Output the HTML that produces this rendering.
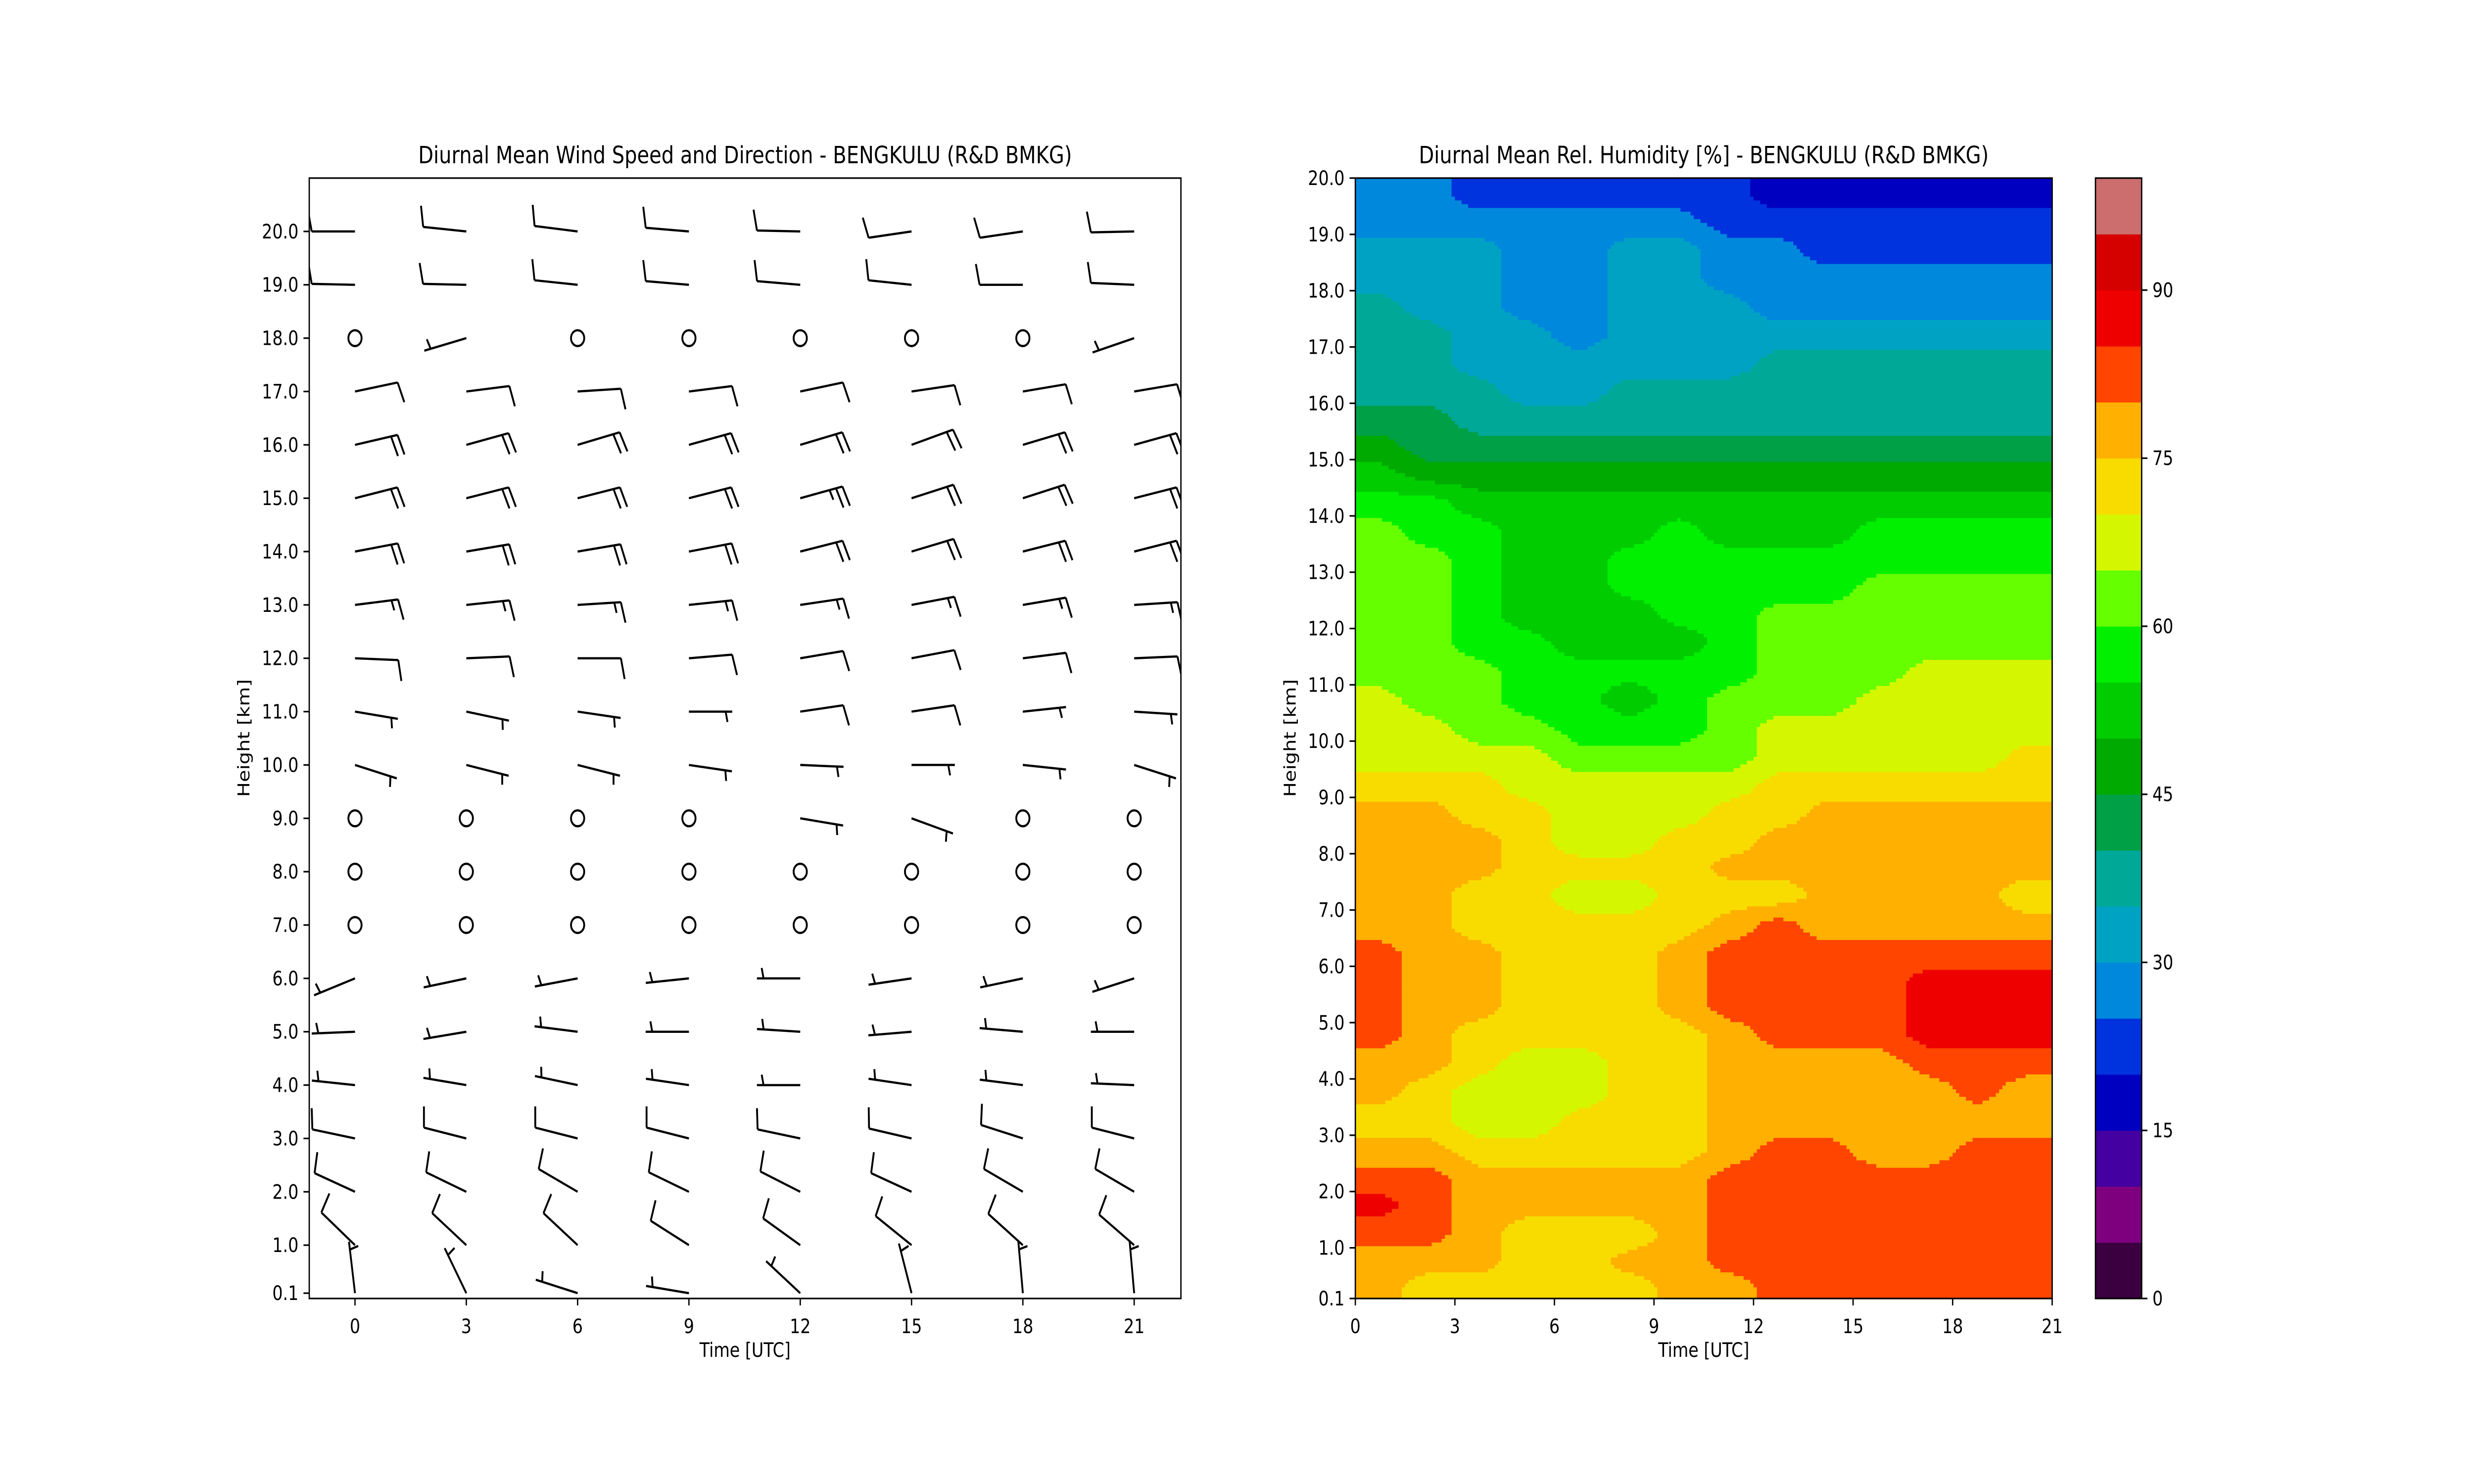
<!DOCTYPE html>
<html><head><meta charset="utf-8"><title>Diurnal Mean Wind and RH - BENGKULU</title>
<style>
html,body{margin:0;padding:0;background:#fff;width:100%;height:100%;overflow:hidden;}
svg{display:block;width:100vw;height:100vh;}
text{font-family:"DejaVu Sans","Liberation Sans",sans-serif;fill:#000;}
</style></head>
<body>
<svg id="fig" xmlns="http://www.w3.org/2000/svg" viewBox="0 0 6000 3000" preserveAspectRatio="none">
<rect x="0" y="0" width="6000" height="3000" fill="#fff"/>
<defs>
<clipPath id="clipL"><rect x="750" y="360" width="2114" height="2265"/></clipPath>
<clipPath id="clipR"><rect x="3287" y="360" width="1690" height="2265"/></clipPath>
</defs>
<g id="leftPlot">
<text x="1807" y="330" font-size="48" text-anchor="middle">Diurnal Mean Wind Speed and Direction - BENGKULU (R&amp;D BMKG)</text>
<g id="barbs" clip-path="url(#clipL)"></g>
<g id="axL"></g>
<text x="1807" y="2743" font-size="40" text-anchor="middle">Time [UTC]</text>
<text transform="translate(605,1492) rotate(-90)" font-size="40" text-anchor="middle">Height [km]</text>
</g>
<g id="rightPlot">
<text x="4132" y="330" font-size="48" text-anchor="middle">Diurnal Mean Rel. Humidity [%] - BENGKULU (R&amp;D BMKG)</text>
<g id="rhField" clip-path="url(#clipR)"></g>
<g id="axR"></g>
<text x="4132" y="2743" font-size="40" text-anchor="middle">Time [UTC]</text>
<text transform="translate(3142,1492) rotate(-90)" font-size="40" text-anchor="middle">Height [km]</text>
</g>
<g id="cbar"></g>
</svg>
<script>
// ---------- Wind data ----------
const windTimes = [0,3,6,9,12,15,18,21];
const windHeights = [0.1,1,2,3,4,5,6,7,8,9,10,11,12,13,14,15,16,17,18,19,20];
const windDir = [
 [352,330,285,278,308,343,354,354],
 [309,308,308,298,301,304,307,306],
 [291,292,296,292,293,291,296,296],
 [280,282,282,282,280,281,285,282],
 [275,278,280,277,270,277,276,272],
 [268,262,276,270,273,266,274,270],
 [251,260,261,265,270,263,260,255],
 [0,0,0,0,0,0,0,0],
 [0,0,0,0,0,0,0,0],
 [0,0,0,0,98,107,0,0],
 [105,102,102,97,92,90,95,105],
 [98,100,97,90,83,83,85,93],
 [92,88,90,86,82,81,84,88],
 [84,85,87,85,83,81,82,87],
 [81,82,82,81,78,76,78,78],
 [78,78,78,78,77,75,75,78],
 [79,77,76,77,76,73,76,77],
 [80,84,87,84,80,83,82,82],
 [0,256,0,0,0,0,0,254],
 [271,271,275,274,274,275,270,272],
 [270,275,276,274,271,263,263,269]
];
const windSpd = [
 [5,5,5,5,5,5,5,5],
 [10,10,10,10,10,10,10,10],
 [10,10,10,10,10,10,10,10],
 [10,10,10,10,10,10,10,10],
 [5,5,5,5,5,5,5,5],
 [5,5,5,5,5,5,5,5],
 [5,5,5,5,5,5,5,5],
 [0,0,0,0,0,0,0,0],
 [0,0,0,0,0,0,0,0],
 [0,0,0,0,5,5,0,0],
 [5,5,5,5,5,5,5,5],
 [5,5,5,5,10,10,5,5],
 [10,10,10,10,10,10,10,10],
 [15,15,15,15,15,15,15,15],
 [20,20,20,20,20,20,20,20],
 [20,20,20,20,25,20,20,20],
 [20,20,20,20,20,20,20,20],
 [10,10,10,10,10,10,10,10],
 [0,5,0,0,0,0,0,5],
 [10,10,10,10,10,10,10,10],
 [10,10,10,10,10,10,10,10]
];
const leftYTicks = [0.1,1,2,3,4,5,6,7,8,9,10,11,12,13,14,15,16,17,18,19,20];
const xTicks = [0,3,6,9,12,15,18,21];

// ---------- RH data (cell centres) ----------
const rhTimes = [0.75,2.25,3.75,5.25,6.75,8.25,9.75,11.25,12.75,14.25,15.75,17.25,18.75,20.25];
const rhHeights = [19.75,19.25,18.75,18.25,17.75,17.25,16.75,16.25,15.75,15.25,14.75,14.25,13.75,13.25,12.75,12.25,11.75,11.25,10.75,10.25,9.75,9.25,8.75,8.25,7.75,7.25,6.75,6.25,5.75,5.25,4.75,4.25,3.75,3.25,2.75,2.25,1.75,1.25,0.75,0.25];
const rhValues = [
 [27,27,22,22,22,22,22,22,17,17,17,17,17,17],
 [27,27,27,27,27,27,27,22,22,22,22,22,22,22],
 [32,32,32,27,27,32,32,27,27,22,22,22,22,22],
 [32,32,32,27,27,32,32,27,27,27,27,27,27,27],
 [37,32,32,27,27,32,32,32,27,27,27,27,27,27],
 [37,37,32,32,27,32,32,32,32,32,32,32,32,32],
 [37,37,32,32,32,32,32,32,37,37,37,37,37,37],
 [37,37,37,32,32,37,37,37,37,37,37,37,37,37],
 [42,42,37,37,37,37,37,37,37,37,37,37,37,37],
 [47,42,42,42,42,42,42,42,42,42,42,42,42,42],
 [52,47,47,47,47,47,47,47,47,47,47,47,47,47],
 [57,57,52,52,52,52,52,52,52,52,52,52,52,52],
 [62,57,57,52,52,52,57,52,52,52,57,57,57,57],
 [62,62,57,52,52,57,57,57,57,57,57,57,57,57],
 [62,62,57,52,52,57,57,57,57,57,62,62,62,62],
 [62,62,57,52,52,52,57,57,62,62,62,62,62,62],
 [62,62,57,57,52,52,52,57,62,62,62,62,62,62],
 [62,62,62,57,57,57,57,57,62,62,62,67,67,67],
 [67,62,62,57,57,52,57,62,62,62,67,67,67,67],
 [67,67,62,62,57,57,57,62,67,67,67,67,67,67],
 [67,67,67,67,62,62,62,62,67,67,67,67,67,72],
 [72,72,72,67,67,67,67,67,72,72,72,72,72,72],
 [77,77,72,72,67,67,67,72,72,77,77,77,77,77],
 [77,77,77,72,67,67,72,72,77,77,77,77,77,77],
 [77,77,77,72,72,72,72,77,77,77,77,77,77,77],
 [77,77,72,72,67,67,72,72,72,77,77,77,77,72],
 [77,77,72,72,72,72,72,77,82,77,77,77,77,77],
 [82,77,77,72,72,72,77,82,82,82,82,82,82,82],
 [82,77,77,72,72,72,77,82,82,82,82,87,87,87],
 [82,77,77,72,72,72,77,82,82,82,82,87,87,87],
 [82,77,72,72,72,72,72,77,82,82,82,87,87,87],
 [77,77,72,67,67,72,72,77,77,77,77,82,82,82],
 [77,72,67,67,67,72,72,77,77,77,77,77,82,77],
 [72,72,67,67,72,72,72,77,77,77,77,77,77,77],
 [77,77,72,72,72,72,72,77,82,82,77,77,82,82],
 [82,82,77,77,77,77,77,82,82,82,82,82,82,82],
 [87,82,77,77,77,77,77,82,82,82,82,82,82,82],
 [82,82,77,72,72,72,77,82,82,82,82,82,82,82],
 [77,77,77,72,72,77,77,82,82,82,82,82,82,82],
 [77,72,72,72,72,72,77,77,82,82,82,82,82,82]
];
const rhLevels = [0,5,10,15,20,25,30,35,40,45,50,55,60,65,70,75,80,85,90,95,100];
const rhColors = ["#3a0040","#7f007f","#4400a0","#0000c0","#0033dd","#0088dd","#00a2c4","#00a898","#00a046","#00aa00","#00cc00","#00f000","#66ff00","#d4f700","#f8dc00","#ffb000","#ff4500","#ee0000","#d50000","#cc6e6e"];
const cbarTicks = [0,15,30,45,60,75,90];

const NS = "http://www.w3.org/2000/svg";
function mk(tag, attrs, parent){
  const e = document.createElementNS(NS, tag);
  for (const k in attrs) e.setAttribute(k, attrs[k]);
  parent.appendChild(e);
  return e;
}
// ---------- scales ----------
const L = {x0:750, x1:2864, y0:360, y1:2625, tmin:-1.233, tmax:22.26, hmin:0, hmax:21};
const R = {x0:3287, x1:4977, y0:360, y1:2625, tmin:0, tmax:21, hmin:0.1, hmax:20};
const CB = {x0:5082, x1:5194, y0:360, y1:2625, vmin:0, vmax:100};
function lx(t){ return L.x0 + (t-L.tmin)/(L.tmax-L.tmin)*(L.x1-L.x0); }
function ly(h){ return L.y1 - (h-L.hmin)/(L.hmax-L.hmin)*(L.y1-L.y0); }
function rx(t){ return R.x0 + (t-R.tmin)/(R.tmax-R.tmin)*(R.x1-R.x0); }
function ry(h){ return R.y1 - (h-R.hmin)/(R.hmax-R.hmin)*(R.y1-R.y0); }
function cy(v){ return CB.y1 - (v-CB.vmin)/(CB.vmax-CB.vmin)*(CB.y1-CB.y0); }

// ---------- barbs ----------
const gB = document.getElementById('barbs');
const SH = 105, FULL = 42, HALF = 21, SP = 16, LEAN = 9;
windHeights.forEach((h, i) => {
  windTimes.forEach((t, j) => {
    const px = lx(t), py = ly(h);
    const spd = windSpd[i][j], d = windDir[i][j]*Math.PI/180;
    if (spd < 5) {
      const c = mk('circle', {cx:px, cy:py, r:16, fill:'none', stroke:'#000', 'stroke-width':4.5}, gB);
      
      
      return;
    }
    const sx = Math.sin(d), sy = -Math.cos(d);
    const qx = Math.cos(d), qy = Math.sin(d);
    const ex = px + SH*sx, ey = py + SH*sy;
    let p = `M${px},${py} L${ex},${ey}`;
    const full = Math.floor(spd/10), half = (spd % 10) >= 5 ? 1 : 0;
    let k = 0;
    for (let f = 0; f < full; f++, k++) {
      const bx = ex - k*SP*sx, by = ey - k*SP*sy;
      p += ` M${bx},${by} L${bx + FULL*qx + LEAN*sx},${by + FULL*qy + LEAN*sy}`;
    }
    if (half) {
      if (full === 0) k = 1;
      const bx = ex - k*SP*sx, by = ey - k*SP*sy;
      p += ` M${bx},${by} L${bx + HALF*qx + LEAN*0.5*sx},${by + HALF*qy + LEAN*0.5*sy}`;
    }
    const b = mk('path', {d:p, fill:'none', stroke:'#000', 'stroke-width':4.5, 'stroke-linecap':'butt'}, gB);
    
    
  });
});

// ---------- axes helper ----------
function drawAxes(g, x0, x1, y0, y1, xt, xf, yt, yf, ylab){
  const f = mk('rect', {x:x0, y:y0, width:x1-x0, height:y1-y0, fill:'none', stroke:'#000', 'stroke-width':3.2}, g);
  
  
  xt.forEach(t => {
    const x = xf(t);
    const tk = mk('line', {x1:x, y1:y1, x2:x, y2:y1+14, stroke:'#000', 'stroke-width':3.2}, g);
    
    
    const tx = mk('text', {x:x, y:y1+70, 'font-size':40, 'text-anchor':'middle'}, g);
    tx.textContent = String(t);
    
    
  });
  yt.forEach(h => {
    const y = yf(h);
    const tk = mk('line', {x1:x0-14, y1:y, x2:x0, y2:y, stroke:'#000', 'stroke-width':3.2}, g);
    
    
    const tx = mk('text', {x:x0-26, y:y+14, 'font-size':40, 'text-anchor':'end'}, g);
    tx.textContent = ylab(h);
    
    
  });
}
drawAxes(document.getElementById('axL'), L.x0, L.x1, L.y0, L.y1, xTicks, lx, leftYTicks, ly, h => h.toFixed(1));

// ---------- RH field (contour-style render) ----------
const gR = document.getElementById('rhField');
function bandOf(v){
  for (let b = rhLevels.length-2; b >= 0; b--) if (v >= rhLevels[b]) return b;
  return 0;
}
function sampleRH(t, h){
  const nC = rhTimes.length, nR = rhHeights.length;
  const dt = rhTimes[1]-rhTimes[0], dh = rhHeights[0]-rhHeights[1];
  let fc = (t - rhTimes[0])/dt; fc = Math.max(0, Math.min(nC-1, fc));
  let fr = (rhHeights[0] - h)/dh; fr = Math.max(0, Math.min(nR-1, fr));
  const c0 = Math.min(nC-2, Math.floor(fc)), r0 = Math.min(nR-2, Math.floor(fr));
  const a = fc - c0, b = fr - r0;
  const v00 = rhValues[r0][c0], v01 = rhValues[r0][c0+1], v10 = rhValues[r0+1][c0], v11 = rhValues[r0+1][c0+1];
  return (1-b)*((1-a)*v00 + a*v01) + b*((1-a)*v10 + a*v11);
}
const NX = 210, NY = 300;
for (let iy = 0; iy < NY; iy++) {
  const hTop = R.hmax - iy*(R.hmax-R.hmin)/NY, hBot = R.hmax - (iy+1)*(R.hmax-R.hmin)/NY;
  const hc = (hTop+hBot)/2;
  let runStart = 0, runBand = -1;
  for (let ix = 0; ix <= NX; ix++) {
    let band = -2;
    if (ix < NX) {
      const tc = R.tmin + (ix+0.5)*(R.tmax-R.tmin)/NX;
      band = bandOf(sampleRH(tc, hc));
    }
    if (band !== runBand) {
      if (runBand >= 0) {
        const xa = rx(R.tmin + runStart*(R.tmax-R.tmin)/NX), xb = rx(R.tmin + ix*(R.tmax-R.tmin)/NX);
        const ya = ry(hTop), yb = ry(hBot);
        const r = mk('rect', {x:xa, y:ya, width:xb-xa+0.8, height:yb-ya+0.8, fill:rhColors[runBand]}, gR);
        
        
      }
      runStart = ix; runBand = band;
    }
  }
}
drawAxes(document.getElementById('axR'), R.x0, R.x1, R.y0, R.y1, xTicks, rx, leftYTicks, ry, h => h.toFixed(1));

// ---------- colorbar ----------
const gC = document.getElementById('cbar');
for (let i = 0; i < rhColors.length; i++) {
  const ya = cy(rhLevels[i+1]), yb = cy(rhLevels[i]);
  const r = mk('rect', {x:CB.x0, y:ya, width:CB.x1-CB.x0, height:yb-ya+0.6, fill:rhColors[i]}, gC);
  
  
}
const cf = mk('rect', {x:CB.x0, y:CB.y0, width:CB.x1-CB.x0, height:CB.y1-CB.y0, fill:'none', stroke:'#000', 'stroke-width':3.2}, gC);


cbarTicks.forEach(v => {
  const y = cy(v);
  const tk = mk('line', {x1:CB.x1, y1:y, x2:CB.x1+14, y2:y, stroke:'#000', 'stroke-width':3.2}, gC);
  
  
  const tx = mk('text', {x:CB.x1+26, y:y+14, 'font-size':40, 'text-anchor':'start'}, gC);
  tx.textContent = String(v);
  
  
});
</script>
</body></html>
